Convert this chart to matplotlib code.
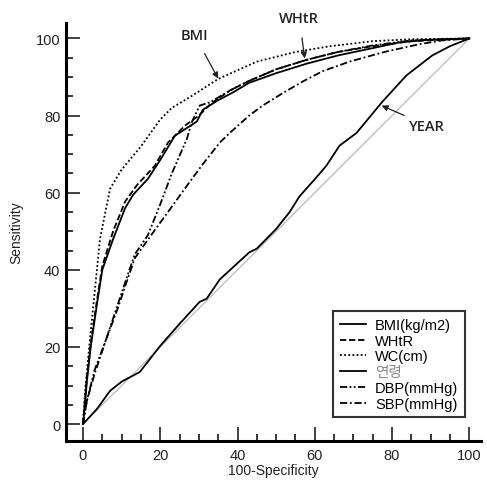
import matplotlib
matplotlib.use("Agg")
import matplotlib.pyplot as plt
from matplotlib.ticker import MultipleLocator

plt.rcParams['font.family'] = ['Liberation Sans', 'Noto Sans CJK KR']

# ROC curves (x = 100-Specificity, y = Sensitivity)
bmi_x = [0, 0.5, 1, 2, 3.6, 5, 7.8, 10.9, 13, 16.8, 20, 23.8, 28, 29.5, 31, 35, 38.8, 43, 50, 58, 66, 75, 82, 90, 100]
bmi_y = [0, 5, 11, 20, 31, 40, 48, 56, 59.5, 63.6, 68.5, 74.8, 77.5, 78.5, 81.5, 84, 86, 88.5, 91, 93.5, 95.6, 97.5, 99, 99.7, 100]

whtr_x = [0, 0.5, 1, 2, 3.6, 5, 7.8, 10.9, 14, 18.6, 22, 26.4, 30, 33, 38, 43, 50, 58, 66, 75, 85, 100]
whtr_y = [0, 6, 12, 21, 32, 41, 50, 57.7, 62, 67, 73, 77.4, 80, 83, 86.5, 89, 92, 94.5, 96.5, 98, 99.3, 100]

wc_x = [0, 0.5, 1.8, 4.4, 7, 10, 15, 20, 23, 28, 35, 45, 55, 64, 75, 85, 100]
wc_y = [0, 8, 22, 48, 61, 66, 72, 79, 82, 85, 89.5, 94, 96.5, 98, 99.3, 99.8, 100]

age_x = [0, 3.6, 7, 10, 14.7, 20, 25, 30.2, 32, 35.4, 43, 45, 50, 53.5, 56, 60, 63, 66.4, 70.8, 77.5, 83.7, 90.4, 95, 100]
age_y = [0, 3.9, 8.6, 11, 13.5, 20.3, 26, 31.7, 32.5, 37.5, 44.5, 45.5, 50.6, 55, 59, 63.5, 67, 72.2, 75.5, 83.6, 90.4, 95.6, 98, 100]

dbp_x = [0, 1, 3, 6, 9, 11, 13.4, 16.8, 20, 23, 26.9, 28.2, 30.2, 33, 38, 43, 50, 58, 66, 75, 85, 100]
dbp_y = [0, 6, 14, 22, 31, 37, 44, 49, 57, 65, 74, 78.4, 82.6, 83.5, 86.5, 89, 92, 94.5, 96.5, 98.2, 99.5, 100]

sbp_x = [0, 1, 3, 6, 9, 11, 13.4, 18, 22, 26.9, 30.7, 35.4, 38, 43, 46.5, 52, 56.8, 62, 69, 78, 87, 93, 100]
sbp_y = [0, 6, 13, 22, 30, 36, 43, 49.5, 55, 61.8, 67, 73, 75.5, 80, 82.6, 86, 88.8, 91.5, 94, 96.5, 98.5, 99.5, 100]

labels = ['BMI(kg/m2)', 'WHtR', 'WC(cm)', '연령', 'DBP(mmHg)', 'SBP(mmHg)']

fig = plt.figure(figsize=(4.87, 4.81), dpi=100)
ax = fig.add_axes([0.1355, 0.081, 0.852, 0.869])

# reference line
ax.plot([0, 100], [0, 100], color='#bbbbbb', lw=0.9, zorder=1)

lw = 1.3
ax.plot(bmi_x, bmi_y, color='black', lw=lw, ls='-', label=labels[0])
ax.plot(whtr_x, whtr_y, color='black', lw=lw, ls=(0, (3.5, 1.5)), label=labels[1])
ax.plot(wc_x, wc_y, color='black', lw=lw, ls=(0, (1, 1.3)), label=labels[2])
ax.plot(age_x, age_y, color='black', lw=lw, ls='-', label=labels[3])
ax.plot(dbp_x, dbp_y, color='black', lw=lw, ls=(0, (4, 1.3, 1, 1.3, 1, 1.3)), label=labels[4])
ax.plot(sbp_x, sbp_y, color='black', lw=lw, ls=(0, (4, 1.5, 1, 1.5)), label=labels[5])

ax.set_xlim(-4.4, 103)
ax.set_ylim(-4.4, 104)

ax.spines['top'].set_visible(False)
ax.spines['right'].set_visible(False)
ax.spines['left'].set_linewidth(2.2)
ax.spines['bottom'].set_linewidth(2.2)

ax.xaxis.set_major_locator(MultipleLocator(20))
ax.xaxis.set_minor_locator(MultipleLocator(5))
ax.yaxis.set_major_locator(MultipleLocator(20))
ax.yaxis.set_minor_locator(MultipleLocator(5))
ax.tick_params(which='major', direction='in', length=10, width=1.2, labelsize=10.5, colors='#222222')
ax.tick_params(which='minor', direction='in', length=5, width=1.1)
ax.tick_params(axis='y', which='major', pad=4)
ax.tick_params(axis='x', which='major', pad=5)

ax.set_xlabel('100-Specificity', fontsize=10, color='#222222', labelpad=1)
ax.set_ylabel('Sensitivity', fontsize=10, color='#222222', labelpad=9)

leg = ax.legend(loc='lower right', bbox_to_anchor=(0.961, 0.057), fontsize=10.5,
                handlelength=1.8, handletextpad=0.6, labelspacing=0.12,
                fancybox=False, framealpha=1, borderpad=0.45, borderaxespad=0)
leg.get_frame().set_edgecolor('#333333')
leg.get_frame().set_linewidth(1.5)
leg.get_texts()[3].set_color('#888888')

# annotations
ann_font = dict(fontsize=10.5, color='#222222', weight='semibold', family=['Open Sans', 'DejaVu Sans'])
arrow = dict(arrowstyle='-|>', color='#222222', lw=0.9, mutation_scale=9)
ax.annotate('BMI', xy=(35, 89.6), xytext=(28.9, 100.8), ha='center', va='center',
            arrowprops=dict(arrow, shrinkA=7, shrinkB=0), **ann_font)
ax.annotate('WHtR', xy=(57.4, 94.8), xytext=(56, 105.2), ha='center', va='center',
            arrowprops=dict(arrow, shrinkA=7, shrinkB=0), annotation_clip=False, **ann_font)
ax.annotate('YEAR', xy=(77.3, 82.6), xytext=(84.5, 77.4), ha='left', va='center',
            arrowprops=dict(arrow, shrinkA=2, shrinkB=0), **ann_font)

fig.savefig('out.png', dpi=100)
